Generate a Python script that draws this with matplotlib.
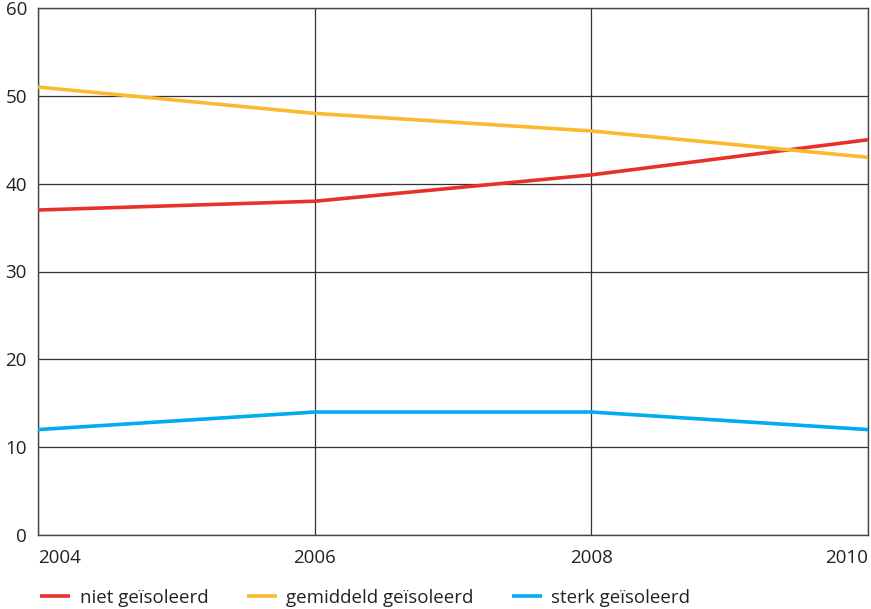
import matplotlib.pyplot as plt

plt.rcParams['font.family'] = ['Open Sans', 'DejaVu Sans']

# data
years = [2004, 2006, 2008, 2010]
niet = [37, 38, 41, 45]
gemiddeld = [51, 48, 46, 43]
sterk = [12, 14, 14, 12]

labels = ["niet geïsoleerd", "gemiddeld geïsoleerd", "sterk geïsoleerd"]
colors = ["#E8312A", "#FBB92D", "#00AEEF"]

fig = plt.figure(figsize=(8.71, 6.09), dpi=100)
ax = fig.add_axes([38 / 871, 1 - 535 / 609, 830 / 871, 527 / 609])

for vals, lab, col in zip([niet, gemiddeld, sterk], labels, colors):
    ax.plot(years, vals, color=col, lw=2.6, label=lab, solid_capstyle='butt', zorder=3)

ax.set_xlim(2004, 2010)
ax.set_ylim(0, 60)
ax.set_xticks(years)
ax.set_yticks(range(0, 61, 10))
ax.grid(True, color="#333333", lw=0.9, zorder=1)
for s in ax.spines.values():
    s.set_color("#444444")
    s.set_linewidth(1.0)

ax.tick_params(length=0, labelsize=13.5, colors="#222222")
ax.tick_params(axis='y', pad=8)
ax.tick_params(axis='x', pad=10)
xl = ax.get_xticklabels()
xl[0].set_ha('left')
xl[-1].set_ha('right')

handles, labs = ax.get_legend_handles_labels()
fig.legend(handles, labs, loc='center left', bbox_to_anchor=(31 / 871, 1 - 598 / 609),
           ncol=3, frameon=False, fontsize=13.5, handlelength=1.6, handletextpad=0.5,
           columnspacing=2.05, borderpad=0, labelcolor="#222222")

fig.savefig("out.png", dpi=100)
